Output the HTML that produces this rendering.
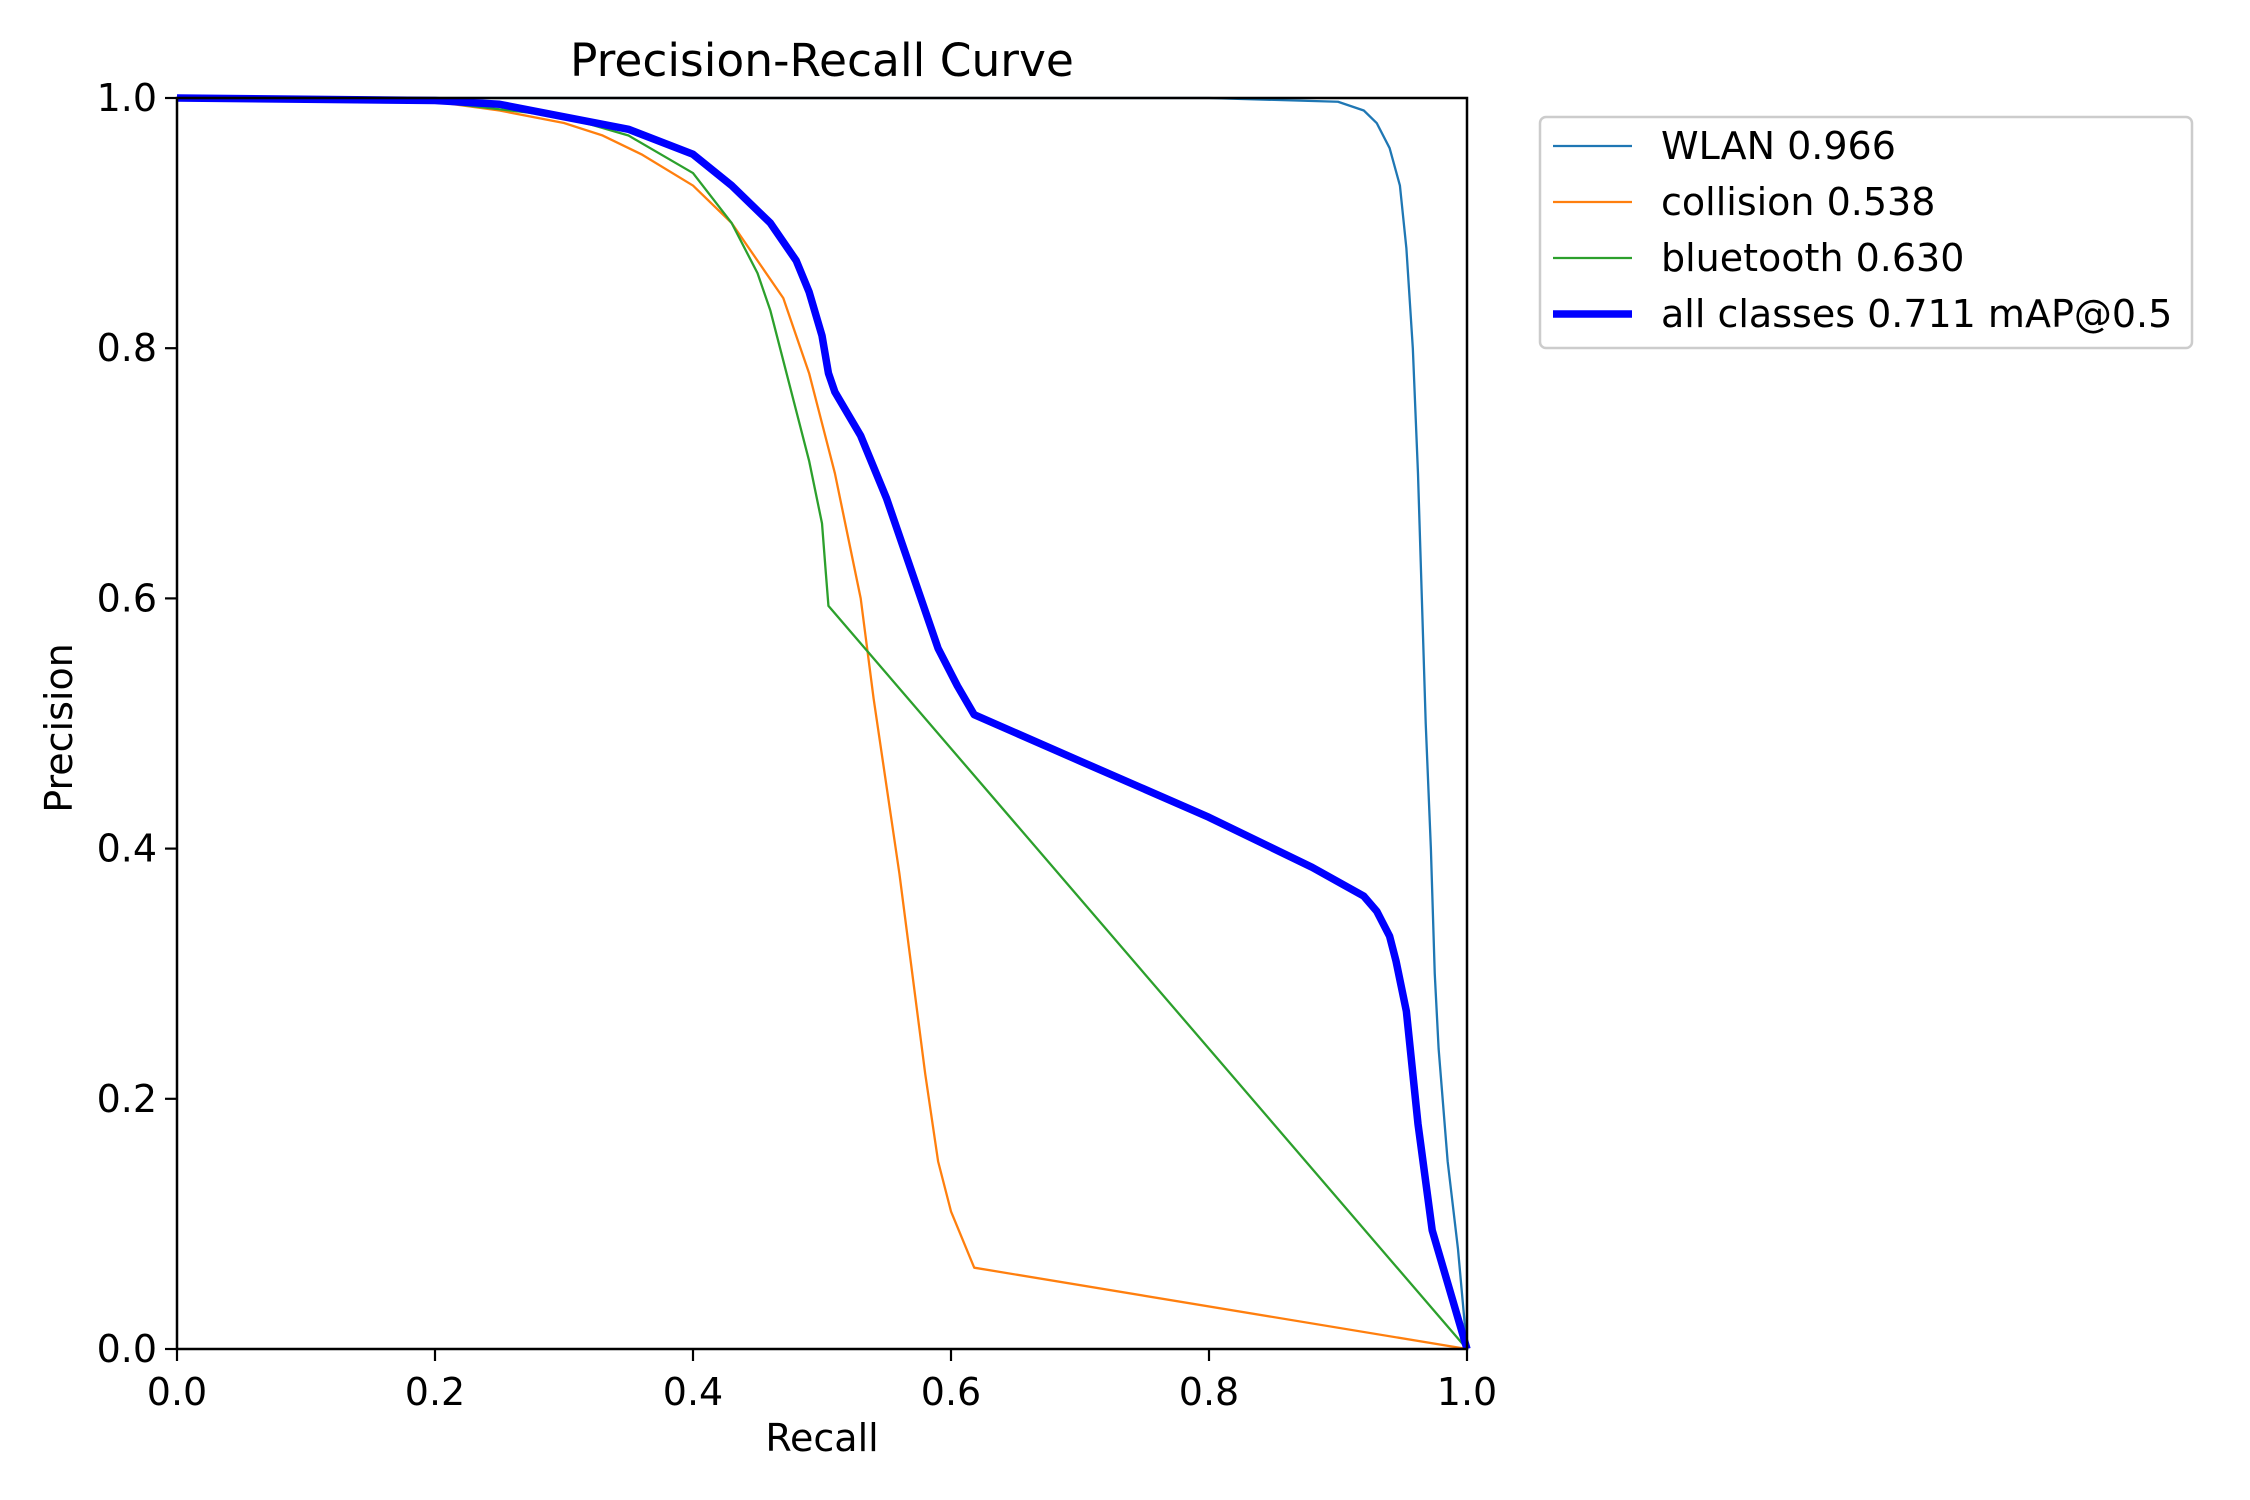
<!DOCTYPE html>
<html><head><meta charset="utf-8"><style>
html,body{margin:0;padding:0;background:#fff}
svg{display:block;font-family:"DejaVu Sans","Liberation Sans",sans-serif}
</style></head><body>
<svg id="chart" width="2250" height="1500" xmlns="http://www.w3.org/2000/svg">
<rect width="2250" height="1500" fill="#fff"/>
<text x="822" y="76" font-size="45.5" text-anchor="middle">Precision-Recall Curve</text>
<g id="series"></g>
<rect x="177" y="98" width="1290" height="1251" fill="none" stroke="#000" stroke-width="2.5"/>
<g id="xticks"></g>
<g id="yticks"></g>
<text x="822" y="1451" font-size="38" text-anchor="middle">Recall</text>
<text x="72" y="728" font-size="38" text-anchor="middle" transform="rotate(-90 72 728)">Precision</text>
<g id="legend">
<rect x="1540" y="117" width="652" height="231" rx="6" fill="#fff" stroke="#ccc" stroke-width="2.5"/>
</g>
</svg>
<script>
const xTicks=[0,0.2,0.4,0.6,0.8,1.0];
const yTicks=[0,0.2,0.4,0.6,0.8,1.0];
const tickLabels=["0.0","0.2","0.4","0.6","0.8","1.0"];
const seriesNames=["WLAN 0.966","collision 0.538","bluetooth 0.630","all classes 0.711 mAP@0.5"];
const wlanR=[0,0.8,0.9,0.92,0.93,0.94,0.948,0.953,0.958,0.962,0.965,0.968,0.972,0.975,0.978,0.985,0.993,1];
const wlanP=[1,1,0.997,0.99,0.98,0.96,0.93,0.88,0.8,0.7,0.6,0.5,0.4,0.3,0.24,0.15,0.08,0];
const collR=[0,0.2,0.25,0.3,0.33,0.36,0.4,0.43,0.45,0.47,0.48,0.49,0.5,0.51,0.52,0.53,0.54,0.55,0.56,0.57,0.58,0.59,0.6,0.618,1];
const collP=[1,0.997,0.99,0.98,0.97,0.955,0.93,0.9,0.87,0.84,0.81,0.78,0.74,0.7,0.65,0.6,0.52,0.45,0.38,0.3,0.22,0.15,0.11,0.065,0];
const btR=[0,0.2,0.3,0.35,0.4,0.43,0.45,0.46,0.47,0.48,0.49,0.5,0.503,0.505,1];
const btP=[1,0.997,0.985,0.97,0.94,0.9,0.86,0.83,0.79,0.75,0.71,0.66,0.62,0.594,0];
const allR=[0,0.2,0.25,0.3,0.35,0.4,0.43,0.46,0.48,0.49,0.5,0.505,0.51,0.53,0.55,0.57,0.59,0.605,0.618,0.7,0.8,0.88,0.92,0.93,0.94,0.945,0.953,0.962,0.973,1];
const allP=[1,0.998,0.995,0.985,0.975,0.955,0.93,0.9,0.87,0.845,0.81,0.78,0.765,0.73,0.68,0.62,0.56,0.53,0.507,0.47,0.425,0.385,0.362,0.35,0.33,0.31,0.27,0.18,0.095,0];
const NS="http://www.w3.org/2000/svg";
const X0=177,X1=1467,Y0=1349,Y1=98;
const sx=v=>X0+v*(X1-X0), sy=v=>Y0-v*(Y0-Y1);
const series=[[wlanR,wlanP,"#1f77b4",2.3,"wlan"],[collR,collP,"#ff7f0e",2.3,"collision"],[btR,btP,"#2ca02c",2.3,"bluetooth"],[allR,allP,"#0000ff",7.5,"all-classes"]];
const sg=document.getElementById('series');
series.forEach(s=>{
 const p=document.createElementNS(NS,'polyline');
 p.setAttribute('points',s[0].map((r,i)=>sx(r)+','+sy(s[1][i])).join(' '));
 p.setAttribute('fill','none');p.setAttribute('stroke',s[2]);p.setAttribute('stroke-width',s[3]);p.setAttribute('stroke-linejoin','round');
 
 
 sg.appendChild(p);
});
const xg=document.getElementById('xticks'),yg=document.getElementById('yticks');
xTicks.forEach((v,i)=>{
 const l=document.createElementNS(NS,'line');l.setAttribute('x1',sx(v));l.setAttribute('x2',sx(v));l.setAttribute('y1',Y0);l.setAttribute('y2',Y0+12);l.setAttribute('stroke','#000');l.setAttribute('stroke-width',2.2);
 
 
 xg.appendChild(l);
 const t=document.createElementNS(NS,'text');t.setAttribute('x',sx(v));t.setAttribute('y',Y0+56);t.setAttribute('font-size',38);t.setAttribute('text-anchor','middle');t.textContent=tickLabels[i];
 
 
 xg.appendChild(t);
});
yTicks.forEach((v,i)=>{
 const l=document.createElementNS(NS,'line');l.setAttribute('x1',X0-12);l.setAttribute('x2',X0);l.setAttribute('y1',sy(v));l.setAttribute('y2',sy(v));l.setAttribute('stroke','#000');l.setAttribute('stroke-width',2.2);
 
 
 yg.appendChild(l);
 const t=document.createElementNS(NS,'text');t.setAttribute('x',X0-20);t.setAttribute('y',sy(v)+13);t.setAttribute('font-size',38);t.setAttribute('text-anchor','end');t.textContent=tickLabels[i];
 
 
 yg.appendChild(t);
});
const lg=document.getElementById('legend');
series.forEach((s,i)=>{
 const y=146+i*56;
 const l=document.createElementNS(NS,'line');l.setAttribute('x1',1553);l.setAttribute('x2',1632);l.setAttribute('y1',y);l.setAttribute('y2',y);l.setAttribute('stroke',s[2]);l.setAttribute('stroke-width',s[3]);
 
 
 lg.appendChild(l);
 const t=document.createElementNS(NS,'text');t.setAttribute('x',1661);t.setAttribute('y',y+13);t.setAttribute('font-size',38);t.textContent=seriesNames[i];
 
 
 lg.appendChild(t);
});
</script>
</body></html>
